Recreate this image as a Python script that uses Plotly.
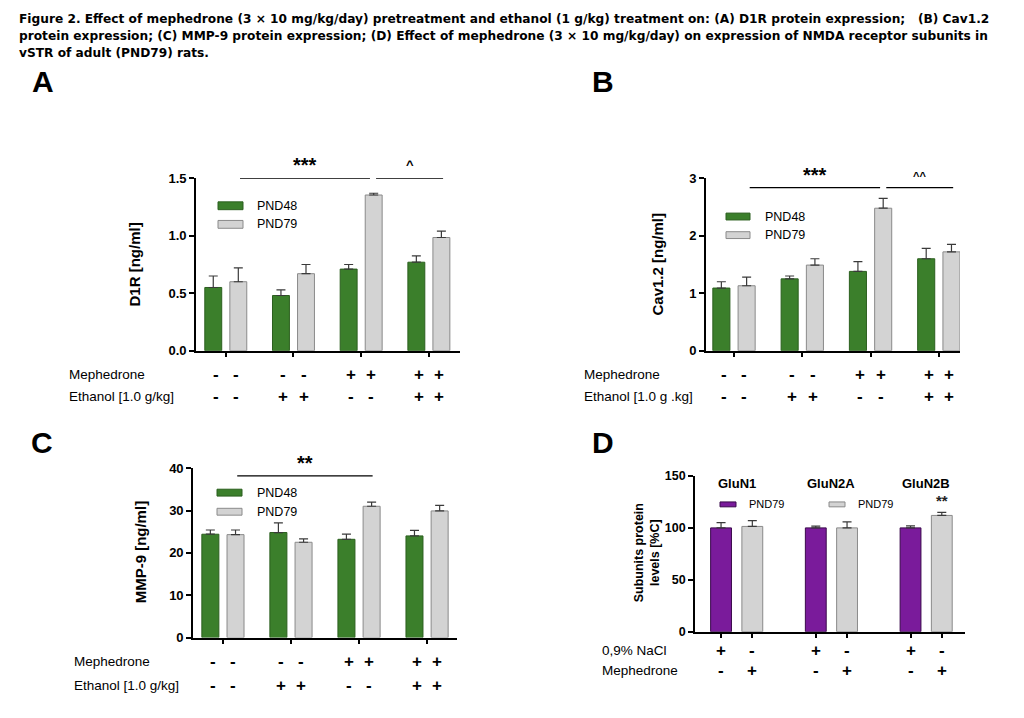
import plotly.graph_objects as go

# ---------------- data ----------------
groups4 = [0, 1, 2, 3]
mephedrone_row = ["-", "-", "+", "+"]
ethanol_row = ["-", "+", "-", "+"]

d1r_pnd48 = [0.55, 0.48, 0.71, 0.77]
d1r_pnd48_err = [0.10, 0.05, 0.04, 0.055]
d1r_pnd79 = [0.60, 0.67, 1.355, 0.985]
d1r_pnd79_err = [0.12, 0.08, 0.015, 0.055]

cav_pnd48 = [1.09, 1.25, 1.38, 1.60]
cav_pnd48_err = [0.11, 0.05, 0.17, 0.18]
cav_pnd79 = [1.13, 1.49, 2.48, 1.72]
cav_pnd79_err = [0.15, 0.11, 0.17, 0.13]

mmp_pnd48 = [24.4, 24.8, 23.2, 24.0]
mmp_pnd48_err = [1.0, 2.3, 1.2, 1.3]
mmp_pnd79 = [24.3, 22.5, 31.0, 29.9]
mmp_pnd79_err = [1.1, 0.8, 1.0, 1.3]

subunits = ["GluN1", "GluN2A", "GluN2B"]
groups3 = [0, 1, 2]
nacl_vals = [100, 100, 100]
nacl_err = [5, 1.7, 2]
meph_vals = [101.4, 100, 112]
meph_err = [5.6, 5.8, 3]
nacl_row = ["+", "-"]
meph_row = ["-", "+"]

title_lines = [
    "Figure 2. Effect of mephedrone (3 × 10 mg/kg/day) pretreatment and ethanol (1 g/kg) treatment on: (A) D1R protein expression;   (B) Cav1.2",
    "protein expression; (C) MMP-9 protein expression; (D) Effect of mephedrone (3 × 10 mg/kg/day) on expression of NMDA receptor subunits in",
    "vSTR of adult (PND79) rats.",
]

# ---------------- style ----------------
W, H = 1024, 718
GREEN, GREEN_LINE = "#3b7f2b", "#2b5f1e"
GRAY, GRAY_LINE = "#d3d3d3", "#8a8a8a"
PURPLE, PURPLE_LINE = "#7a1b9b", "#3a0a4c"
FONT = "Liberation Sans, Arial, sans-serif"
TFONT = "DejaVu Sans, sans-serif"

def px(x):
    return x / W

def py(y):
    return 1 - y / H

fig = go.Figure()

def bar(x, y, err, color, line, off, width, xa, ya, name):
    fig.add_trace(go.Bar(
        x=x, y=y, name=name, showlegend=False,
        marker=dict(color=color, line=dict(color=line, width=1)),
        offset=off, width=width, xaxis=xa, yaxis=ya,
        error_y=dict(type="data", array=err, arrayminus=[0] * len(err), symmetric=False,
                     color="#3a3a3a", thickness=1.2, width=4.5),
    ))

# panels A, B, C
bar(groups4, d1r_pnd48, d1r_pnd48_err, GREEN, GREEN_LINE, -0.31, 0.25, "x", "y", "PND48")
bar(groups4, d1r_pnd79, d1r_pnd79_err, GRAY, GRAY_LINE, 0.06, 0.25, "x", "y", "PND79")
bar(groups4, cav_pnd48, cav_pnd48_err, GREEN, GREEN_LINE, -0.31, 0.25, "x2", "y2", "PND48")
bar(groups4, cav_pnd79, cav_pnd79_err, GRAY, GRAY_LINE, 0.06, 0.25, "x2", "y2", "PND79")
bar(groups4, mmp_pnd48, mmp_pnd48_err, GREEN, GREEN_LINE, -0.31, 0.25, "x3", "y3", "PND48")
bar(groups4, mmp_pnd79, mmp_pnd79_err, GRAY, GRAY_LINE, 0.06, 0.25, "x3", "y3", "PND79")
# panel D
bar(groups3, nacl_vals, nacl_err, PURPLE, PURPLE_LINE, -0.275, 0.22, "x4", "y4", "PND79")
bar(groups3, meph_vals, meph_err, GRAY, GRAY_LINE, 0.055, 0.22, "x4", "y4", "PND79")

tickfont = dict(family=FONT, size=13, color="black")
axis_common = dict(showline=True, linecolor="black", linewidth=1.6, ticks="outside",
                   tickcolor="black", tickwidth=1.5, ticklen=5, showgrid=False,
                   zeroline=False, tickfont=tickfont)

layout = dict(
    width=W, height=H, margin=dict(l=0, r=0, t=0, b=0),
    paper_bgcolor="white", plot_bgcolor="white",
    barmode="overlay", showlegend=False,
    font=dict(family=FONT, color="black"),
)

# A
layout["xaxis"] = dict(axis_common, domain=[px(196), px(460)], range=[-0.44, 3.46],
                       tickvals=groups4, showticklabels=False, anchor="y")
layout["yaxis"] = dict(axis_common, domain=[py(351), py(175)], range=[0, 1.5],
                       tickvals=[0, 0.5, 1.0, 1.5], ticktext=["<b>0.0</b>", "<b>0.5</b>", "<b>1.0</b>", "<b>1.5</b>"],
                       anchor="x")
# B
layout["xaxis2"] = dict(axis_common, domain=[px(706), px(960)], range=[-0.41, 3.31],
                        tickvals=groups4, showticklabels=False, anchor="y2")
layout["yaxis2"] = dict(axis_common, domain=[py(351), py(175)], range=[0, 3],
                        tickvals=[0, 1, 2, 3], ticktext=["<b>0</b>", "<b>1</b>", "<b>2</b>", "<b>3</b>"],
                        anchor="x2")
# C
layout["xaxis3"] = dict(axis_common, domain=[px(193), px(457)], range=[-0.44, 3.44],
                        tickvals=groups4, showticklabels=False, anchor="y3")
layout["yaxis3"] = dict(axis_common, domain=[py(644), py(471)], range=[0, 40],
                        tickvals=[0, 10, 20, 30, 40],
                        ticktext=["<b>0</b>", "<b>10</b>", "<b>20</b>", "<b>30</b>", "<b>40</b>"],
                        anchor="x3")
# D
d_ticks = [g + o for g in groups3 for o in (-0.165, 0.165)]
layout["xaxis4"] = dict(axis_common, domain=[px(695), px(965)], range=[-0.44, 2.41],
                        tickvals=d_ticks, showticklabels=False, anchor="y4")
layout["yaxis4"] = dict(axis_common, domain=[py(638), py(479)], range=[0, 150],
                        tickvals=[0, 50, 100, 150],
                        ticktext=["<b>0</b>", "<b>50</b>", "<b>100</b>", "<b>150</b>"],
                        tickfont=dict(family=FONT, size=12.5, color="black"),
                        anchor="x4")
fig.update_layout(**layout)

ann = []
shapes = []

# title
for i, line in enumerate(title_lines):
    ann.append(dict(text="<b>" + line + "</b>", x=px(17), y=py(12 + 17.5 * i), xref="paper", yref="paper",
                    xanchor="left", yanchor="middle", showarrow=False,
                    font=dict(family=TFONT, size=12.2, color="black")))

# panel letters
for letter, (lx, ly) in {"A": (43, 76), "B": (603, 76), "C": (42, 445), "D": (603, 445)}.items():
    ann.append(dict(text="<b>" + letter + "</b>", x=px(lx), y=py(ly), xref="paper", yref="paper",
                    xanchor="center", yanchor="middle", showarrow=False,
                    font=dict(family=FONT, size=30, color="black")))

# y-axis titles
for txt, (tx, ty) in {"D1R [ng/ml]": (135, 263), "Cav1.2 [ng/ml]": (658, 263),
                      "MMP-9 [ng/ml]": (140, 557)}.items():
    ann.append(dict(text="<b>" + txt + "</b>", x=px(tx), y=py(ty), xref="paper", yref="paper",
                    textangle=-90, showarrow=False, xanchor="center", yanchor="middle",
                    font=dict(family=FONT, size=15, color="black")))
ann.append(dict(text="<b>Subunits protein<br>levels [%C]</b>", x=px(647), y=py(558), xref="paper",
                yref="paper", textangle=-90, showarrow=False, xanchor="center", yanchor="middle",
                font=dict(family=FONT, size=12.5, color="black")))

# legends
def legend(items, x0, y0, dy, w, h, tsize, tgap):
    for i, (label, color, line) in enumerate(items):
        yc = y0 + dy * i
        shapes.append(dict(type="rect", xref="paper", yref="paper", x0=px(x0), x1=px(x0 + w),
                           y0=py(yc + h / 2), y1=py(yc - h / 2), fillcolor=color,
                           line=dict(color=line, width=1)))
        ann.append(dict(text=label, x=px(x0 + w + tgap), y=py(yc), xref="paper", yref="paper",
                        xanchor="left", yanchor="middle", showarrow=False,
                        font=dict(family=FONT, size=tsize, color="black")))

legend([("PND48", GREEN, GREEN_LINE), ("PND79", GRAY, GRAY_LINE)], 218, 203, 19, 25, 8, 12.5, 12)
legend([("PND48", GREEN, GREEN_LINE), ("PND79", GRAY, GRAY_LINE)], 726, 214, 19, 24, 7, 12.5, 13)
legend([("PND48", GREEN, GREEN_LINE), ("PND79", GRAY, GRAY_LINE)], 217, 496, 19.5, 25, 7, 12.5, 13)
legend([("PND79", PURPLE, PURPLE_LINE)], 720, 508, 0, 16, 5, 11, 11)
legend([("PND79", GRAY, GRAY_LINE)], 829, 508, 0, 16, 5, 11, 11)

# significance bars
def sig(xa, ya, x0, x1, yv, label, ty_off, tsize):
    shapes.append(dict(type="line", xref=xa, yref=ya, x0=x0, x1=x1, y0=yv, y1=yv,
                       line=dict(color="black", width=1.3)))
    ann.append(dict(text="<b>" + label + "</b>", x=(x0 + x1) / 2, y=yv, xref=xa, yref=ya,
                    xanchor="center", yanchor="bottom", yshift=ty_off, showarrow=False,
                    font=dict(family=FONT, size=tsize, color="black")))

sig("x", "y", 0.21, 2.13, 1.5, "***", 0, 20)
sig("x", "y", 2.22, 3.21, 1.5, "^", 4, 13)
sig("x2", "y2", 0.23, 2.14, 2.84, "***", 0, 20)
sig("x2", "y2", 2.23, 3.21, 2.84, "^^", 4, 11)
sig("x3", "y3", 0.21, 2.2, 38.2, "**", 0, 20)

# ** above GluN2B mephedrone bar
ann.append(dict(text="<b>**</b>", x=2 + 0.165, y=meph_vals[2] + meph_err[2], xref="x4", yref="y4",
                xanchor="center", yanchor="bottom", yshift=1, showarrow=False,
                font=dict(family=FONT, size=15, color="#222")))

# subunit titles
for g, s in zip(groups3, subunits):
    ann.append(dict(text="<b>" + s + "</b>", x=g, y=py(487), xref="x4", yref="paper",
                    xanchor="center", yanchor="middle", showarrow=False,
                    font=dict(family=FONT, size=13, color="black")))

# treatment rows
def rows(xa, labels_x, row_defs, sign_offsets, groups):
    for label, ry, signs in row_defs:
        ann.append(dict(text=label, x=px(labels_x), y=py(ry), xref="paper", yref="paper",
                        xanchor="left", yanchor="middle", showarrow=False,
                        font=dict(family=FONT, size=13.5, color="black")))
        for g, s in zip(groups, signs):
            for o in sign_offsets:
                ann.append(dict(text="<b>" + s + "</b>", x=g + o, y=py(ry), xref=xa, yref="paper",
                                xanchor="center", yanchor="middle", showarrow=False,
                                font=dict(family=FONT, size=17, color="black")))

rows("x", 67, [("Mephedrone", 375, mephedrone_row), ("Ethanol [1.0 g/kg]", 398, ethanol_row)],
     (-0.15, 0.15), groups4)
rows("x2", 582, [("Mephedrone", 375, mephedrone_row), ("Ethanol [1.0 g .kg]", 398, ethanol_row)],
     (-0.15, 0.15), groups4)
rows("x3", 72, [("Mephedrone", 668, mephedrone_row), ("Ethanol [1.0 g/kg]", 693, ethanol_row)],
     (-0.15, 0.15), groups4)

# panel D rows: one sign per bar
for label, ry, signs in [("0,9% NaCl", 657, nacl_row), ("Mephedrone", 678, meph_row)]:
    ann.append(dict(text=label, x=px(600), y=py(ry), xref="paper", yref="paper",
                    xanchor="left", yanchor="middle", showarrow=False,
                    font=dict(family=FONT, size=13.5, color="black")))
    for g in groups3:
        for o, s in zip((-0.165, 0.165), signs):
            ann.append(dict(text="<b>" + s + "</b>", x=g + o, y=py(ry), xref="x4", yref="paper",
                            xanchor="center", yanchor="middle", showarrow=False,
                            font=dict(family=FONT, size=17, color="black")))

fig.update_layout(annotations=ann, shapes=shapes)
fig.write_html(
    "out.html",
    config={"displayModeBar": False},
    post_script="document.body.style.margin='0';document.body.style.overflow='hidden';"
                "document.documentElement.style.overflow='hidden';",
)
